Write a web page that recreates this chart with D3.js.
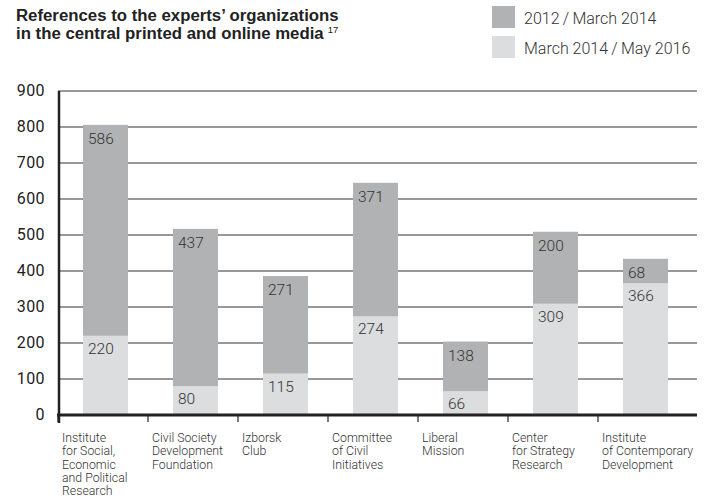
<!DOCTYPE html>
<html>
<head>
<meta charset="utf-8">
<script src="https://cdn.jsdelivr.net/npm/d3@7"></script>
<style>
  body { margin: 0; background: #fff; }
  text { font-family: "Roboto", "Liberation Sans", sans-serif; }
</style>
</head>
<body>
<div class="chart"></div>
<script>
// Stacked bars: references to the experts' organizations

var svgWidth = 705;
var svgHeight = 502;

var categories = [
  ["Institute", "for Social,", "Economic", "and Political", "Research"],
  ["Civil Society", "Development", "Foundation"],
  ["Izborsk", "Club"],
  ["Committee", "of Civil", "Initiatives"],
  ["Liberal", "Mission"],
  ["Center", "for Strategy", "Research"],
  ["Institute", "of Contemporary", "Development"]
];
var seriesNames = ["2012\u2009/\u2009March 2014", "March 2014\u2009/\u2009May 2016"];
var early = [586, 437, 271, 371, 138, 200, 68];   // 2012 / March 2014 (top)
var late = [220, 80, 115, 274, 66, 309, 366];     // March 2014 / May 2016 (bottom)
var yTicks = [0, 100, 200, 300, 400, 500, 600, 700, 800, 900];

var colorDark = "#b1b2b4";
var colorLight = "#dcdddf";

var svg = d3.select(".chart")
  .append("svg")
  .attr("width", svgWidth)
  .attr("height", svgHeight);

var keys = categories.map((c, i) => i);

var x = d3.scaleBand()
  .domain(keys)
  .range([58, 688])
  .padding(0);

var y = d3.scaleLinear()
  .domain([0, 900])
  .range([415, 91]);

// title
var title = svg.append("text")
  .attr("x", 16)
  .attr("y", 21)
  .attr("font-size", 16.8)
  .attr("font-weight", 700)
  .style("font-family", "'Liberation Sans', Arial, sans-serif")
  .attr("fill", "#222");
title.append("tspan").attr("x", 16).attr("y", 21).text("References to the experts\u2019 organizations");
title.append("tspan").attr("x", 16).attr("y", 39).text("in the central printed and online media");
title.append("tspan")
  .attr("dx", 4)
  .attr("dy", -6)
  .attr("font-size", 9.5)
  .attr("font-weight", 400)
  .text("17");

// legend
var legend = svg.append("g");
[colorDark, colorLight].forEach(function(c, i) {
  legend.append("rect")
    .attr("x", 492)
    .attr("y", 6 + i * 30)
    .attr("width", 23)
    .attr("height", 22)
    .attr("fill", c);
  legend.append("text")
    .attr("x", 524)
    .attr("y", 24 + i * 30)
    .attr("font-size", 16)
    .attr("font-weight", 300)
    .attr("fill", "#333")
    .text(seriesNames[i]);
});

// gridlines
svg.append("g")
  .selectAll("line")
  .data(yTicks.slice(1))
  .enter()
  .append("line")
  .attr("x1", 58)
  .attr("x2", 697)
  .attr("y1", d => y(d))
  .attr("y2", d => y(d))
  .attr("stroke", "#333")
  .attr("stroke-width", 1);

// bars
var bars = svg.append("g");
bars.selectAll("rect.late")
  .data(keys)
  .enter()
  .append("rect")
  .attr("x", d => x(d) + 25)
  .attr("width", x.bandwidth() / 2)
  .attr("y", d => y(late[d]))
  .attr("height", d => y(0) - y(late[d]))
  .attr("fill", colorLight);

bars.selectAll("rect.early")
  .data(keys)
  .enter()
  .append("rect")
  .attr("x", d => x(d) + 25)
  .attr("width", x.bandwidth() / 2)
  .attr("y", d => y(late[d] + early[d]))
  .attr("height", d => y(late[d]) - y(late[d] + early[d]))
  .attr("fill", colorDark);

// value labels
keys.forEach(function(d) {
  svg.append("text")
    .attr("x", x(d) + 30)
    .attr("y", y(late[d] + early[d]) + 19)
    .attr("font-size", 15.5)
    .attr("font-weight", 300)
    .attr("fill", "#333")
    .text(early[d]);
  svg.append("text")
    .attr("x", x(d) + 30)
    .attr("y", y(late[d]) + 18)
    .attr("font-size", 15.5)
    .attr("font-weight", 300)
    .attr("fill", "#333")
    .text(late[d]);
});

// y axis labels
svg.append("g")
  .selectAll("text")
  .data(yTicks)
  .enter()
  .append("text")
  .attr("x", 45)
  .attr("y", d => y(d) + 5)
  .attr("text-anchor", "end")
  .attr("font-size", 16)
  .attr("letter-spacing", 0.4)
  .attr("fill", "#222")
  .text(d => d);

// axis lines
svg.append("line")
  .attr("x1", 59).attr("x2", 59)
  .attr("y1", 91).attr("y2", 423)
  .attr("stroke", "#222")
  .attr("stroke-width", 2.5);

svg.append("line")
  .attr("x1", 57).attr("x2", 697)
  .attr("y1", 415).attr("y2", 415)
  .attr("stroke", "#222")
  .attr("stroke-width", 3);

svg.append("g")
  .selectAll("line")
  .data(keys)
  .enter()
  .append("line")
  .attr("x1", d => x(d))
  .attr("x2", d => x(d))
  .attr("y1", 415)
  .attr("y2", 422)
  .attr("stroke", "#222")
  .attr("stroke-width", 1.2);

// category labels
keys.forEach(function(d) {
  var t = svg.append("text")
    .attr("font-size", 12.3)
    .attr("font-weight", 300)
    .attr("fill", "#333");
  categories[d].forEach(function(line, j) {
    t.append("tspan")
      .attr("x", x(d) + 4)
      .attr("y", 442 + j * 13.3)
      .text(line);
  });
});
</script>
</body>
</html>
